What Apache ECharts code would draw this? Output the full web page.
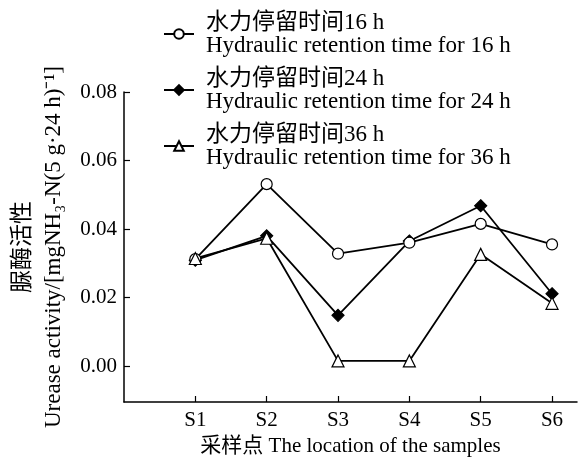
<!DOCTYPE html>
<html>
<head>
<meta charset="utf-8">
<script src="https://cdn.jsdelivr.net/npm/echarts@6/dist/echarts.min.js"></script>
<style>
  html, body { margin: 0; padding: 0; background: #fff; }
  #chart { width: 582px; height: 459px; }
</style>
</head>
<body>
<div id="chart"></div>
<script>
  // 采样点与三个水力停留时间的脲酶活性
  const sites = ['S1', 'S2', 'S3', 'S4', 'S5', 'S6']
  const siteTicks = [1, 2, 3, 4, 5, 6]
  const yTicks = [0, 0.02, 0.04, 0.06, 0.08]
  const hrt16 = [0.0312, 0.0531, 0.0328, 0.0360, 0.0415, 0.0355]
  const hrt24 = [0.0309, 0.0380, 0.0148, 0.0365, 0.0468, 0.0211]
  const hrt36 = [0.0314, 0.0373, 0.0015, 0.0015, 0.0326, 0.0183]
  const names = [
    '水力停留时间16 h\nHydraulic retention time for 16 h',
    '水力停留时间24 h\nHydraulic retention time for 24 h',
    '水力停留时间36 h\nHydraulic retention time for 36 h'
  ]

  const font = '"Liberation Serif", "Times New Roman", "Noto Sans CJK SC", serif'
  const toPoints = arr => arr.map((v, i) => [siteTicks[i], v])

  const chart = echarts.init(document.getElementById('chart'))

  const lineSeries = (name, data, symbol, size, fill) => ({
    name: name,
    type: 'line',
    data: toPoints(data),
    symbol: symbol,
    symbolSize: size,
    showAllSymbol: true,
    lineStyle: { color: '#000', width: 1.8 },
    itemStyle: { color: fill, borderColor: '#000', borderWidth: 1.2 },
    emphasis: { disabled: true },
    animation: false
  })

  const option = {
    backgroundColor: '#fff',
    textStyle: { fontFamily: font, color: '#000' },
    grid: { left: 124, right: 5, top: 92, bottom: 57, outerBoundsMode: 'none' },
    legend: {
      data: names,
      orient: 'vertical',
      left: 158,
      top: 6,
      itemWidth: 30,
      itemHeight: 12,
      itemGap: 10,
      textStyle: { fontFamily: font, fontSize: 23, lineHeight: 23, color: '#000', padding: [0, 0, 0, 7] }
    },
    xAxis: {
      type: 'value',
      min: 0,
      max: 6.35,
      interval: 1,
      splitLine: { show: false },
      axisLine: { onZero: false, lineStyle: { color: '#000', width: 1.5 } },
      axisTick: { inside: true, length: 6, customValues: siteTicks, lineStyle: { color: '#000', width: 1.2 } },
      axisLabel: {
        customValues: siteTicks,
        formatter: v => sites[siteTicks.indexOf(v)] || '',
        fontFamily: font, fontSize: 21, color: '#000', margin: 8
      },
      name: '采样点 The location of the samples',
      nameLocation: 'middle',
      nameGap: 31,
      nameTextStyle: { fontFamily: font, fontSize: 21, color: '#000' }
    },
    yAxis: {
      type: 'value',
      min: -0.0105,
      max: 0.08,
      splitLine: { show: false },
      axisLine: { show: true, onZero: false, lineStyle: { color: '#000', width: 1.5 } },
      axisTick: { show: true, inside: true, length: 6, customValues: yTicks, lineStyle: { color: '#000', width: 1.2 } },
      axisLabel: {
        customValues: yTicks,
        formatter: v => v.toFixed(2),
        fontFamily: font, fontSize: 21, color: '#000', margin: 7
      },
      name: '脲酶活性\nUrease activity/[mgNH₃-N(5 g·24 h)⁻¹]',
      nameLocation: 'middle',
      nameRotate: 90,
      nameGap: 51,
      nameTextStyle: { fontFamily: font, fontSize: 23, lineHeight: 31, color: '#000' }
    },
    series: [
      lineSeries(names[1], hrt24, 'diamond', 12, '#000'),
      lineSeries(names[0], hrt16, 'circle', 11, '#fff'),
      lineSeries(names[2], hrt36, 'triangle', 12, '#fff')
    ]
  }

  chart.setOption(option)
</script>
</body>
</html>
